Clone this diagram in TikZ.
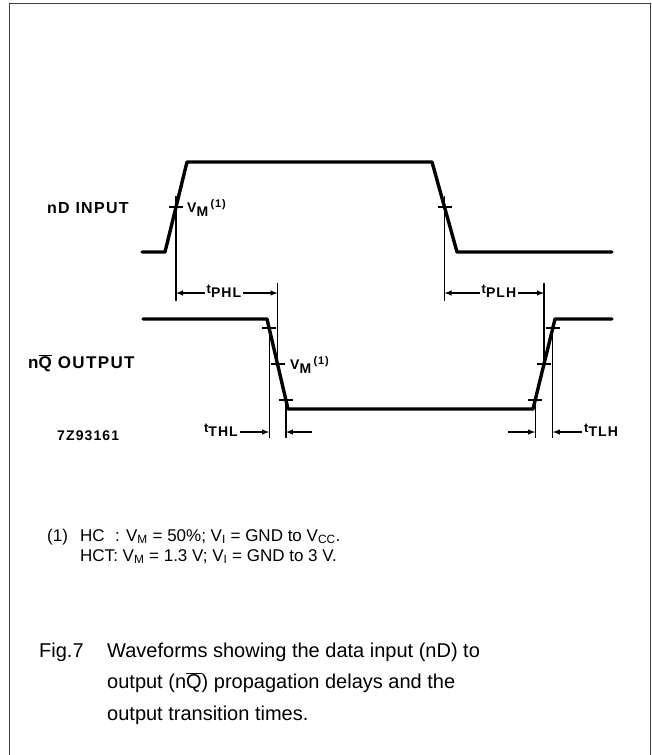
\documentclass[tikz,border=0pt]{standalone}
\usepackage{fontspec}
\setmainfont{Liberation Sans}
\newfontfamily\lblfont[LetterSpace=8]{Liberation Sans}
\usetikzlibrary{arrows,positioning,calc}

\def \tickW {7pt}
\newcommand{\lowsub}[1]{\raisebox{-4pt}{#1}}
\newcommand{\highsup}[1]{\raisebox{5pt}{\fontsize{11}{12}\selectfont #1}}
\newcommand{\tsub}[1]{{\fontsize{13}{14}\selectfont t}\lowsub{#1}}
\tikzset{
	frameline/.style= {draw=black!75, line width=1.4pt},
	wave/.style= {draw, line width=3.4pt, line join=round, line cap=round},
	refline/.style= {draw, line width=1.2pt},
	tickmark/.style= {draw, line width=1.8pt},
	dimarrow/.style= {draw, line width=1.4pt, -latex},
	siglabel/.style= {anchor=west, inner sep=0pt, font=\lblfont\bfseries\fontsize{16}{18}\selectfont},
	timelabel/.style= {inner sep=2pt, font=\lblfont\bfseries\fontsize{14}{16}\selectfont},
	notetext/.style= {anchor=base west, inner sep=0pt, font=\fontsize{17}{20}\selectfont},
	captiontext/.style= {anchor=base west, inner sep=0pt, font=\fontsize{20}{24}\selectfont}
}

\begin{document}
\begin{tikzpicture}[x=1pt,y=-1pt]
\useasboundingbox (0,0) rectangle (652,755);

%%%%%%%%%%%%%%%%%%%%% Frame %%%%%%%%%%%%%%%%%%%%%
\draw[frameline] (9.5,760) -- (9.5,3.5) -- (650.5,3.5) -- (650.5,760);

%%%%%%%%%%%%%%%%%%%%% Waveforms %%%%%%%%%%%%%%%%%%%%%
\coordinate (in0) at (142,252);
\coordinate (in1) at (165,252);
\coordinate (in2) at (187,162);
\coordinate (in3) at (432,162);
\coordinate (in4) at (457,252);
\coordinate (in5) at (612,252);
\coordinate (inVMr) at ($(in1)!0.5!(in2)$);
\coordinate (inVMf) at ($(in3)!0.5!(in4)$);

\coordinate (out0) at (143,319);
\coordinate (out1) at (267,319);
\coordinate (out2) at (288,409);
\coordinate (out3) at (533,409);
\coordinate (out4) at (555,319);
\coordinate (out5) at (612,319);
\coordinate (out90f) at ($(out1)!0.1!(out2)$);
\coordinate (outVMf) at ($(out1)!0.5!(out2)$);
\coordinate (out10f) at ($(out1)!0.9!(out2)$);
\coordinate (out10r) at ($(out3)!0.1!(out4)$);
\coordinate (outVMr) at ($(out3)!0.5!(out4)$);
\coordinate (out90r) at ($(out3)!0.9!(out4)$);

\draw[wave] (in0) -- (in1) -- (in2) -- (in3) -- (in4) -- (in5);
\draw[wave] (out0) -- (out1) -- (out2) -- (out3) -- (out4) -- (out5);

%%%%%%%%%%%%%%%%%%%%% Reference lines %%%%%%%%%%%%%%%%%%%%%
\coordinate (pdtop) at (0,283);
\coordinate (pdmid) at (0,293);
\coordinate (pdbot) at (0,301);
\coordinate (ttmid) at (0,432);
\coordinate (ttbot) at (0,438);

\draw[refline] ($(inVMr)+(0,-11)$) -- (inVMr |- pdbot);
\draw[refline] ($(inVMf)+(0,-11)$) -- (inVMf |- pdbot);
\draw[refline] (outVMf |- pdtop) -- ($(outVMf)+(0,4)$);
\draw[refline] (outVMr |- pdtop) -- ($(outVMr)+(0,4)$);
\draw[refline] (out90f) -- (out90f |- ttbot);
\draw[refline] (out10f) -- (out10f |- ttbot);
\draw[refline] (out10r) -- (out10r |- ttbot);
\draw[refline] (out90r) -- (out90r |- ttbot);

\foreach \p in {inVMr,inVMf,out90f,outVMf,out10f,out10r,outVMr,out90r}
	\draw[tickmark] ($(\p)+(-\tickW,0)$) -- ($(\p)+(\tickW,0)$);

%%%%%%%%%%%%%%%%%%%%% Labels %%%%%%%%%%%%%%%%%%%%%
\node[siglabel] (inlabel) at (47,208) {nD INPUT};
\node[siglabel, font=\lblfont\bfseries\fontsize{17}{19}\selectfont] (outlabel) at (28,363) {n$\overline{\hbox{Q}}$ OUTPUT};
\node[siglabel, font=\lblfont\bfseries\fontsize{14}{16}\selectfont] (figid) at (57,436) {7Z93161};

\node[timelabel, anchor=west] (vmin) at (185,208) {V\lowsub{M}\,\highsup{(1)}};
\node[timelabel, anchor=west] (vmout) at (288,365) {V\lowsub{M}\,\highsup{(1)}};

\node[timelabel] (tphl) at (224,291) {\tsub{PHL}};
\node[timelabel] (tplh) at (499,291) {\tsub{PLH}};
\node[timelabel, anchor=east] (tthl) at (240,430) {\tsub{THL}};
\node[timelabel, anchor=west] (ttlh) at (582,430) {\tsub{TLH}};

%%%%%%%%%%%%%%%%%%%%% Timing arrows %%%%%%%%%%%%%%%%%%%%%
\coordinate (thlR) at (312,432);
\coordinate (tlhL) at (508,432);
\draw[dimarrow] (tphl.west |- pdmid) -- (inVMr |- pdmid);
\draw[dimarrow] (tphl.east |- pdmid) -- (outVMf |- pdmid);
\draw[dimarrow] (tplh.west |- pdmid) -- (inVMf |- pdmid);
\draw[dimarrow] (tplh.east |- pdmid) -- (outVMr |- pdmid);
\draw[dimarrow] (tthl.east |- ttmid) -- (out90f |- ttmid);
\draw[dimarrow] (thlR) -- (out10f |- ttmid);
\draw[dimarrow] (tlhL) -- (out10r |- ttmid);
\draw[dimarrow] (ttlh.west |- ttmid) -- (out90r |- ttmid);

%%%%%%%%%%%%%%%%%%%%% Note and caption %%%%%%%%%%%%%%%%%%%%%
\node[notetext] (fnmark) at (47,541) {(1)};
\node[notetext] (fnline1) at (80,541) {HC\hphantom{T}: V\textsubscript{M} = 50\%; V\textsubscript{I} = GND to V\textsubscript{CC}.};
\node[notetext, below=20pt of fnline1.base west, anchor=base west] (fnline2) {HCT: V\textsubscript{M} = 1.3 V; V\textsubscript{I} = GND to 3 V.};

\node[captiontext] (figno) at (39,657) {Fig.7};
\node[captiontext] (cap1) at (107,657) {Waveforms showing the data input (nD) to};
\node[captiontext, below=31.5pt of cap1.base west, anchor=base west] (cap2) {output (n$\overline{\hbox{Q}}$) propagation delays and the};
\node[captiontext, below=31.5pt of cap2.base west, anchor=base west] (cap3) {output transition times.};

\end{tikzpicture}
\end{document}
